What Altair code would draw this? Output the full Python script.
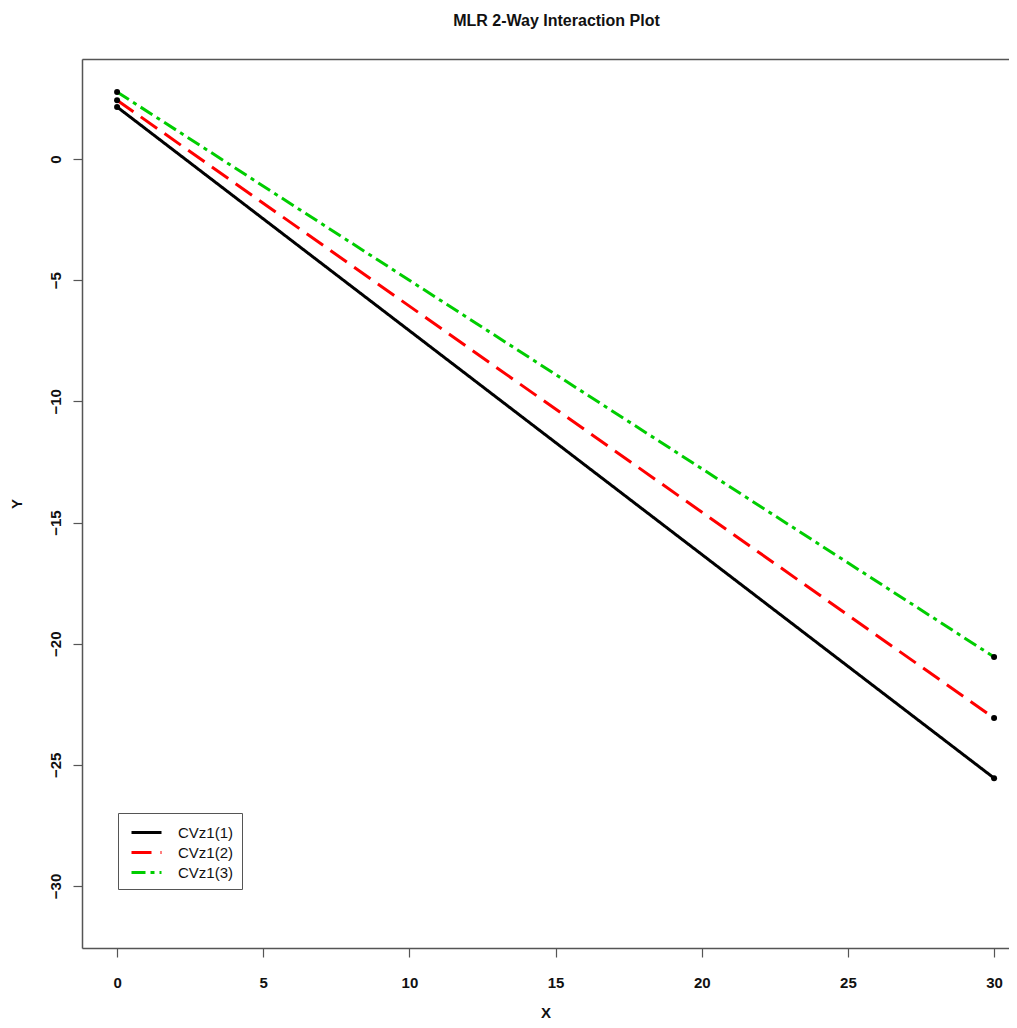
import altair as alt
import pandas as pd

# ---- data ----
groups = ["CVz1(1)", "CVz1(2)", "CVz1(3)"]
x_values = [0, 30]
y_start = [2.15, 2.43, 2.77]
y_end = [-25.55, -23.07, -20.55]
line_colors = ["#000000", "#ff0000", "#00cd00"]
line_dashes = [[1, 0], [20, 9], [14, 5, 4, 5]]
x_ticks = [0, 5, 10, 15, 20, 25, 30]
y_ticks = [0, -5, -10, -15, -20, -25, -30]
x_domain = [-1.2, 30.51]
y_domain = [-32.56, 4.13]

rows = []
for g, a, b in zip(groups, y_start, y_end):
    rows.append({"group": g, "x": x_values[0], "y": a})
    rows.append({"group": g, "x": x_values[1], "y": b})
df = pd.DataFrame(rows)

FONT = "Liberation Sans"
FRAME = "#555555"

x_enc = alt.X(
    "x:Q",
    scale=alt.Scale(domain=x_domain, nice=False, zero=False),
    axis=alt.Axis(
        values=x_ticks, title="X", grid=False,
        domain=True, domainColor=FRAME, domainWidth=1.5,
        tickSize=9, tickColor=FRAME, tickWidth=1.2,
        labelPadding=18, labelFontSize=15, labelFontWeight="bold",
        labelFont=FONT, labelColor="#111111",
        titlePadding=15, titleFontSize=15, titleFontWeight="bold",
        titleFont=FONT, titleColor="#111111",
    ),
)
y_enc = alt.Y(
    "y:Q",
    scale=alt.Scale(domain=y_domain, nice=False, zero=False),
    axis=alt.Axis(
        values=y_ticks, title="Y", grid=False,
        domain=True, domainColor=FRAME, domainWidth=1.5,
        tickSize=9, tickColor=FRAME, tickWidth=1.2,
        labelAngle=270, labelAlign="center", labelBaseline="alphabetic",
        labelPadding=13, labelFontSize=15, labelFontWeight="bold",
        labelFont=FONT, labelColor="#111111",
        titlePadding=24, titleFontSize=15, titleFontWeight="bold",
        titleFont=FONT, titleColor="#111111",
    ),
)

lines = alt.Chart(df).mark_line(strokeWidth=3).encode(
    x=x_enc,
    y=y_enc,
    color=alt.Color(
        "group:N",
        scale=alt.Scale(domain=groups, range=line_colors),
        legend=alt.Legend(
            title=None, orient="none", legendX=36, legendY=754,
            padding=8, strokeColor=FRAME, fillColor="#ffffff",
            cornerRadius=0, symbolType="M-1.5,0H1.5", symbolSize=400,
            symbolStrokeWidth=3, symbolOffset=9, labelFontSize=15,
            labelFont=FONT, labelColor="#111111", labelOffset=20,
            rowPadding=0,
        ),
    ),
    strokeDash=alt.StrokeDash(
        "group:N",
        scale=alt.Scale(domain=groups, range=line_dashes),
        legend=alt.Legend(title=None),
    ),
    detail="group:N",
)

# points layer also carries the top edge of the frame
points = alt.Chart(df).mark_circle(size=36, color="#000000", opacity=1).encode(
    x=alt.X(
        "x:Q",
        axis=alt.Axis(
            orient="top", labels=False, ticks=False, title="", grid=False,
            domain=True, domainColor=FRAME, domainWidth=1.5,
        ),
    ),
    y="y:Q",
)

chart = (
    alt.layer(lines, points)
    .resolve_axis(x="independent")
    .properties(
        width=927,
        height=889,
        autosize=alt.AutoSizeParams(type="none"),
        padding={"left": 74, "top": 51, "right": 0, "bottom": 72},
        title=alt.TitleParams(
            "MLR 2-Way Interaction Plot", fontSize=16, fontWeight="bold",
            font=FONT, color="#111111", offset=30, anchor="middle", dx=11,
        ),
    )
    .configure_view(stroke=None)
    .configure(background="#ffffff")
)

chart.save("out.html", embed_options={"renderer": "svg", "actions": False})
